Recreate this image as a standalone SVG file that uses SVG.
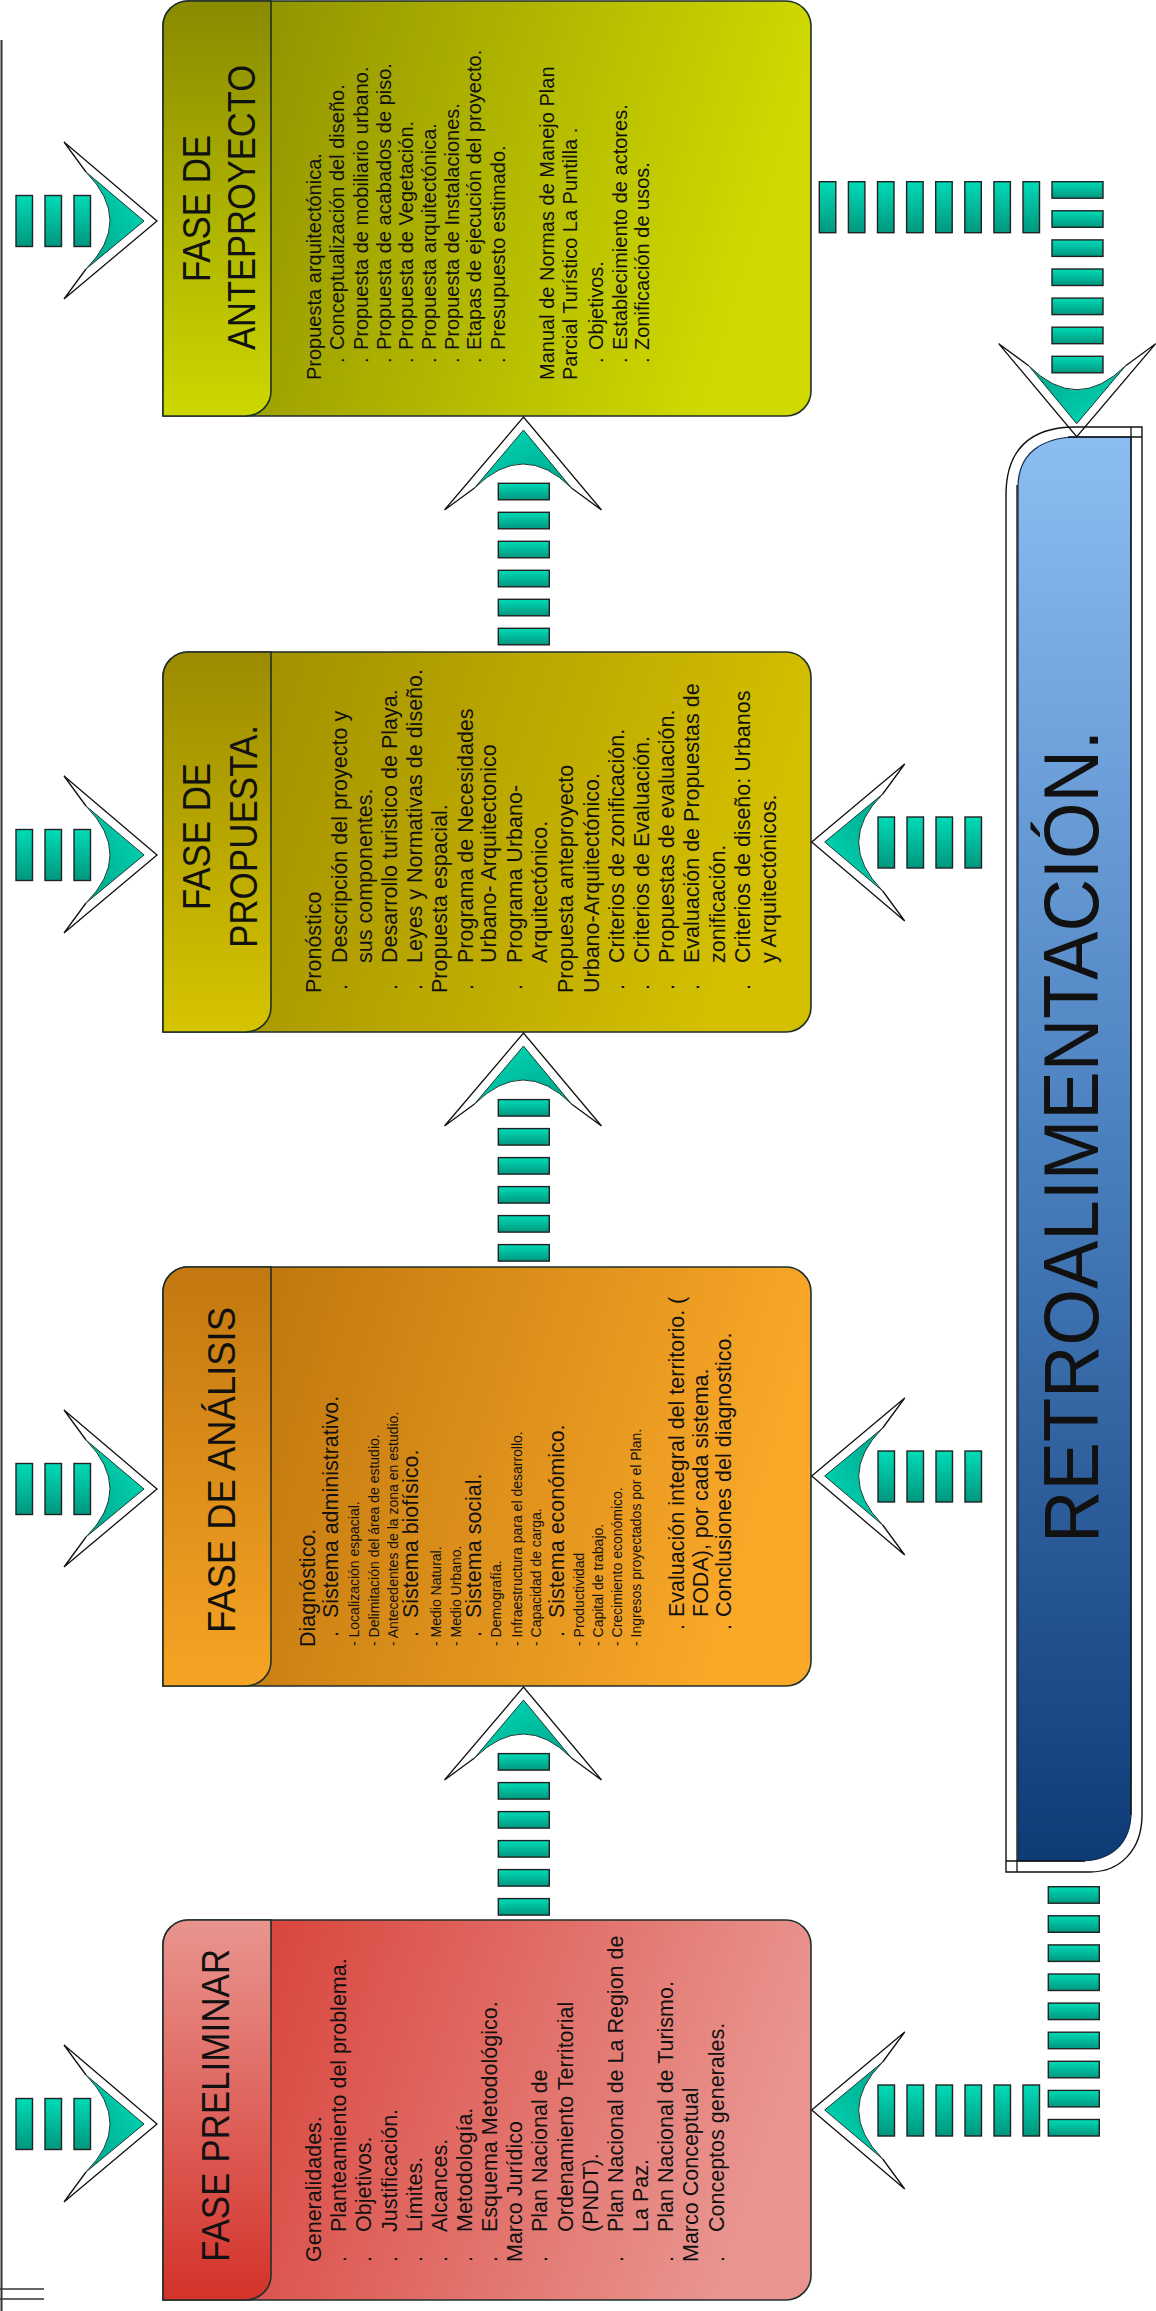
<svg xmlns="http://www.w3.org/2000/svg" width="1156" height="2311" viewBox="0 0 1156 2311">
<style>
text{font-family:"Liberation Sans",Arial,sans-serif;fill:#111}
.hd{font-size:38px}
.b{font-size:21.5px}
.s{font-size:14px}
.a{font-size:20px}
.rt{font-size:78px}
.bx{stroke:#1f2f2a;stroke-width:1.6}
.ln{stroke:#111;stroke-width:1.3;fill:none}
</style>
<defs>
<linearGradient id="gTeal" x1="0" y1="0" x2="0" y2="1"><stop offset="0" stop-color="#00dbb7"/><stop offset="1" stop-color="#00977e"/></linearGradient>
<linearGradient id="gChev" x1="0" y1="1" x2="1" y2="0"><stop offset="0" stop-color="#00a48a"/><stop offset="1" stop-color="#00dcb8"/></linearGradient>
<linearGradient id="pBody" x1="0" y1="0" x2="1" y2="0.2"><stop offset="0" stop-color="#d5372e"/><stop offset="1" stop-color="#e9948f"/></linearGradient>
<linearGradient id="pBand" x1="0" y1="0" x2="0" y2="1"><stop offset="0" stop-color="#e9958f"/><stop offset="1" stop-color="#d3322a"/></linearGradient>
<linearGradient id="aBody" x1="0" y1="0" x2="1" y2="0.2"><stop offset="0" stop-color="#b56e08"/><stop offset="1" stop-color="#f9a828"/></linearGradient>
<linearGradient id="aBand" x1="0" y1="0" x2="0" y2="1"><stop offset="0" stop-color="#c27810"/><stop offset="1" stop-color="#f6a424"/></linearGradient>
<linearGradient id="rBody" x1="0" y1="0" x2="1" y2="0.2"><stop offset="0" stop-color="#9a8800"/><stop offset="1" stop-color="#d4c000"/></linearGradient>
<linearGradient id="rBand" x1="0" y1="0" x2="0" y2="1"><stop offset="0" stop-color="#9c8b00"/><stop offset="1" stop-color="#d6c400"/></linearGradient>
<linearGradient id="tBody" x1="0" y1="0" x2="1" y2="0.2"><stop offset="0" stop-color="#878700"/><stop offset="1" stop-color="#d0da00"/></linearGradient>
<linearGradient id="tBand" x1="0" y1="0" x2="0" y2="1"><stop offset="0" stop-color="#8a8a00"/><stop offset="1" stop-color="#cdd800"/></linearGradient>
<linearGradient id="gBlue" x1="0" y1="0" x2="0" y2="1"><stop offset="0" stop-color="#8cbdf2"/><stop offset="0.5" stop-color="#4a7fbe"/><stop offset="1" stop-color="#0e3b76"/></linearGradient>
<g id="chev"><path d="M-71,-49 L-13,0 L-71,48 Q-23,0 -71,-49 Z" fill="url(#gChev)" stroke="#1a3a34" stroke-width="1"/><path d="M-71,-49 L-93,-79 L0,0 L-93,78 L-71,48" fill="none" stroke="#111" stroke-width="1.3"/></g>
<rect id="rv" width="16.5" height="51" fill="url(#gTeal)" stroke="#222" stroke-width="1.4"/>
<rect id="rh" width="51" height="16.5" fill="url(#gTeal)" stroke="#222" stroke-width="1.4"/>
</defs>
<rect width="1156" height="2311" fill="#fff"/>
<g id="frame">
<line x1="1.5" y1="40" x2="1.5" y2="2311" stroke="#333" stroke-width="2"/>
<line x1="0" y1="2289" x2="44" y2="2289" stroke="#333" stroke-width="1.5"/>
<line x1="0" y1="2299" x2="44" y2="2299" stroke="#333" stroke-width="1.5"/>
</g>

<g id="node-anteproyecto">
<path class="bx" fill="url(#tBody)" d="M163,416 L163,26 A25,25 0 0 1 188,1 L786,1 A25,25 0 0 1 811,26 L811,391 A25,25 0 0 1 786,416 Z"/>
<path class="bx" fill="url(#tBand)" d="M163,416 L163,26 A25,25 0 0 1 188,1 L271,1 L271,391 A25,25 0 0 1 246,416 Z"/>
<g transform="rotate(-90)">
<text class="hd" x="-282" y="210" textLength="147" lengthAdjust="spacingAndGlyphs">FASE DE</text>
<text class="hd" x="-350" y="255" textLength="285" lengthAdjust="spacingAndGlyphs">ANTEPROYECTO</text>
<g class="a">
<text x="-380" y="321">Propuesta arquitectónica.</text>
<text x="-363" y="344">.</text><text x="-350" y="344">Conceptualización del diseño.</text>
<text x="-363" y="368">.</text><text x="-350" y="368">Propuesta de mobiliario urbano.</text>
<text x="-363" y="390.6">.</text><text x="-350" y="390.6">Propuesta de acabados de piso.</text>
<text x="-363" y="412.8">.</text><text x="-350" y="412.8">Propuesta de Vegetación.</text>
<text x="-363" y="436">.</text><text x="-350" y="436">Propuesta arquitectónica.</text>
<text x="-363" y="458.5">.</text><text x="-350" y="458.5">Propuesta de Instalaciones.</text>
<text x="-363" y="481">.</text><text x="-350" y="481">Etapas de ejecución del proyecto.</text>
<text x="-363" y="504.7">.</text><text x="-350" y="504.7">Presupuesto estimado.</text>
<text x="-380" y="554">Manual de Normas de Manejo Plan</text>
<text x="-380" y="577">Parcial Turístico La Puntilla .</text>
<text x="-363" y="603">.</text><text x="-350" y="603">Objetivos.</text>
<text x="-363" y="626.5">.</text><text x="-350" y="626.5">Establecimiento de actores.</text>
<text x="-363" y="649">.</text><text x="-350" y="649">Zonificación de usos.</text>
</g>
</g>
</g>

<g id="node-propuesta">
<path class="bx" fill="url(#rBody)" d="M163,1032 L163,677 A25,25 0 0 1 188,652 L786,652 A25,25 0 0 1 811,677 L811,1007 A25,25 0 0 1 786,1032 Z"/>
<path class="bx" fill="url(#rBand)" d="M163,1032 L163,677 A25,25 0 0 1 188,652 L271,652 L271,1007 A25,25 0 0 1 246,1032 Z"/>
<g transform="rotate(-90)">
<text class="hd" x="-910" y="210" textLength="147" lengthAdjust="spacingAndGlyphs">FASE DE</text>
<text class="hd" x="-948" y="257" textLength="223" lengthAdjust="spacingAndGlyphs">PROPUESTA.</text>
<g class="b">
<text x="-993" y="321">Pronóstico</text>
<text x="-990" y="346.6">.</text><text x="-963" y="346.6">Descripción del proyecto y</text>
<text x="-963" y="372">sus componentes.</text>
<text x="-990" y="397">.</text><text x="-963" y="397">Desarrollo turistico de Playa.</text>
<text x="-990" y="422">.</text><text x="-963" y="422">Leyes y Normativas de diseño.</text>
<text x="-993" y="447">Propuesta espacial.</text>
<text x="-990" y="473">.</text><text x="-963" y="473">Programa de Necesidades</text>
<text x="-963" y="496">Urbano- Arquitectonico</text>
<text x="-990" y="522">.</text><text x="-963" y="522">Programa Urbano-</text>
<text x="-963" y="547">Arquitectónico.</text>
<text x="-993" y="573">Propuesta anteproyecto</text>
<text x="-993" y="599">Urbano-Arquitectónico.</text>
<text x="-990" y="624">.</text><text x="-963" y="624">Criterios de zonificación.</text>
<text x="-990" y="649">.</text><text x="-963" y="649">Criterios de Evaluación.</text>
<text x="-990" y="673.5">.</text><text x="-963" y="673.5">Propuestas de evaluación.</text>
<text x="-990" y="699">.</text><text x="-963" y="699">Evaluación de Propuestas de</text>
<text x="-963" y="725">zonificación.</text>
<text x="-990" y="750">.</text><text x="-963" y="750">Criterios de diseño: Urbanos</text>
<text x="-963" y="776">y Arquitectónicos.</text>
</g>
</g>
</g>

<g id="node-analisis">
<path class="bx" fill="url(#aBody)" d="M163,1686 L163,1292 A25,25 0 0 1 188,1267 L786,1267 A25,25 0 0 1 811,1292 L811,1661 A25,25 0 0 1 786,1686 Z"/>
<path class="bx" fill="url(#aBand)" d="M163,1686 L163,1292 A25,25 0 0 1 188,1267 L271,1267 L271,1661 A25,25 0 0 1 246,1686 Z"/>
<g transform="rotate(-90)">
<text class="hd" x="-1633" y="235" textLength="326" lengthAdjust="spacingAndGlyphs">FASE DE ANÁLISIS</text>
<text class="b" x="-1647" y="314.5">Diagnóstico.</text>
<g class="b">
<text x="-1637" y="338">.</text><text x="-1618" y="338">Sistema administrativo.</text>
<text x="-1637" y="418">.</text><text x="-1618" y="418">Sistema biofísico.</text>
<text x="-1637" y="481">.</text><text x="-1618" y="481">Sistema social.</text>
<text x="-1637" y="564">.</text><text x="-1618" y="564">Sistema económico.</text>
<text x="-1630" y="684">.</text><text x="-1617" y="684">Evaluación integral del territorio. (</text>
<text x="-1617" y="708">FODA), por cada sistema.</text>
<text x="-1630" y="731">.</text><text x="-1617" y="731">Conclusiones del diagnostico.</text>
</g>
<g class="s">
<text x="-1646" y="358.5">- Localización espacial.</text>
<text x="-1646" y="378.6">- Delimitación del área de estudio.</text>
<text x="-1646" y="398">- Antecedentes de la zona en estudio.</text>
<text x="-1646" y="440.6">- Medio Natural.</text>
<text x="-1646" y="461">- Medio Urbano.</text>
<text x="-1646" y="501">- Demografía.</text>
<text x="-1646" y="522">- Infraestructura para el desarrollo.</text>
<text x="-1646" y="541">- Capacidad de carga.</text>
<text x="-1646" y="584">- Productividad</text>
<text x="-1646" y="603">- Capital de trabajo.</text>
<text x="-1646" y="622">- Crecimiento económico.</text>
<text x="-1646" y="641">- Ingresos proyectados por el Plan.</text>
</g>
</g>
</g>

<g id="node-preliminar">
<path class="bx" fill="url(#pBody)" d="M163,2300 L163,1945 A25,25 0 0 1 188,1920 L786,1920 A25,25 0 0 1 811,1945 L811,2275 A25,25 0 0 1 786,2300 Z"/>
<path class="bx" fill="url(#pBand)" d="M163,2300 L163,1945 A25,25 0 0 1 188,1920 L271,1920 L271,2275 A25,25 0 0 1 246,2300 Z"/>
<g transform="rotate(-90)">
<text class="hd" x="-2262" y="229" textLength="313" lengthAdjust="spacingAndGlyphs">FASE PRELIMINAR</text>
<g class="b">
<text x="-2262" y="321">Generalidades.</text>
<text x="-2262" y="346">.</text><text x="-2232" y="346">Planteamiento del problema.</text>
<text x="-2262" y="371">.</text><text x="-2232" y="371">Objetivos.</text>
<text x="-2262" y="397">.</text><text x="-2232" y="397">Justificación.</text>
<text x="-2262" y="422">.</text><text x="-2232" y="422">Límites.</text>
<text x="-2262" y="447">.</text><text x="-2232" y="447">Alcances.</text>
<text x="-2262" y="472">.</text><text x="-2232" y="472">Metodología.</text>
<text x="-2262" y="497">.</text><text x="-2232" y="497">Esquema Metodológico.</text>
<text x="-2262" y="522">Marco Jurídico</text>
<text x="-2262" y="547">.</text><text x="-2232" y="547">Plan Nacional de</text>
<text x="-2232" y="573">Ordenamiento Territorial</text>
<text x="-2232" y="598">(PNDT).</text>
<text x="-2262" y="623">.</text><text x="-2232" y="623">Plan Nacional de La Region de</text>
<text x="-2232" y="648">La Paz.</text>
<text x="-2262" y="673">.</text><text x="-2232" y="673">Plan Nacional de Turismo.</text>
<text x="-2262" y="698">Marco Conceptual</text>
<text x="-2262" y="724">.</text><text x="-2232" y="724">Conceptos generales.</text>
</g>
</g>
</g>

<g id="node-retroalimentacion">
<path d="M1006,1872 L1006,495 C1006,450 1030,427 1075,427 L1142,427 L1142,1815 C1142,1850 1120,1872 1090,1872 Z" fill="#fff" stroke="#111" stroke-width="1.4"/>
<path d="M1018,1861 L1018,487 C1018,455 1040,437 1078,437 L1131,437 L1131,1812 C1131,1843 1112,1861 1080,1861 Z" fill="url(#gBlue)" stroke="#0a2a50" stroke-width="1.2"/>
<line class="ln" x1="1017" y1="485" x2="1017" y2="1872"/>
<line class="ln" x1="1068" y1="437" x2="1142" y2="437"/>
<line class="ln" x1="1131" y1="427" x2="1131" y2="1815"/>
<line class="ln" x1="1006" y1="1861" x2="1085" y2="1861"/>
<text class="rt" transform="translate(1098,1543) rotate(-90)" textLength="813" lengthAdjust="spacingAndGlyphs">RETROALIMENTACIÓN.</text>
</g>

<g id="connectors">
<!-- left arrows into boxes -->
<use href="#rv" x="16" y="195.5"/><use href="#rv" x="45" y="195.5"/><use href="#rv" x="74" y="195.5"/><use href="#chev" transform="translate(157,221)"/>
<use href="#rv" x="16" y="829.5"/><use href="#rv" x="45" y="829.5"/><use href="#rv" x="74" y="829.5"/><use href="#chev" transform="translate(157,855)"/>
<use href="#rv" x="16" y="1463.5"/><use href="#rv" x="45" y="1463.5"/><use href="#rv" x="74" y="1463.5"/><use href="#chev" transform="translate(157,1489)"/>
<use href="#rv" x="16" y="2098.5"/><use href="#rv" x="45" y="2098.5"/><use href="#rv" x="74" y="2098.5"/><use href="#chev" transform="translate(157,2124)"/>
<!-- upward arrows between boxes -->
<use href="#chev" transform="translate(523.5,417) rotate(-90)"/>
<use href="#rh" x="498.3" y="483.3"/><use href="#rh" x="498.3" y="512.3"/><use href="#rh" x="498.3" y="541.3"/><use href="#rh" x="498.3" y="570.3"/><use href="#rh" x="498.3" y="599.3"/><use href="#rh" x="498.3" y="628.3"/>
<use href="#chev" transform="translate(523.5,1033) rotate(-90)"/>
<use href="#rh" x="498.3" y="1099.6"/><use href="#rh" x="498.3" y="1128.6"/><use href="#rh" x="498.3" y="1157.6"/><use href="#rh" x="498.3" y="1186.6"/><use href="#rh" x="498.3" y="1215.6"/><use href="#rh" x="498.3" y="1244.6"/>
<use href="#chev" transform="translate(523.5,1687) rotate(-90)"/>
<use href="#rh" x="498.3" y="1753.6"/><use href="#rh" x="498.3" y="1782.6"/><use href="#rh" x="498.3" y="1811.6"/><use href="#rh" x="498.3" y="1840.6"/><use href="#rh" x="498.3" y="1869.6"/><use href="#rh" x="498.3" y="1898.6"/>
<!-- feedback arrows pointing left -->
<use href="#chev" transform="translate(811.7,842) rotate(180)"/>
<use href="#rv" x="878" y="817"/><use href="#rv" x="907" y="817"/><use href="#rv" x="936" y="817"/><use href="#rv" x="965" y="817"/>
<use href="#chev" transform="translate(811.7,1476) rotate(180)"/>
<use href="#rv" x="878" y="1451"/><use href="#rv" x="907" y="1451"/><use href="#rv" x="936" y="1451"/><use href="#rv" x="965" y="1451"/>
<use href="#chev" transform="translate(811.7,2110) rotate(180)"/>
<use href="#rv" x="878" y="2085"/><use href="#rv" x="907" y="2085"/><use href="#rv" x="936" y="2085"/><use href="#rv" x="965" y="2085"/><use href="#rv" x="994" y="2085"/><use href="#rv" x="1023" y="2085"/>
<!-- from anteproyecto to retroalimentacion -->
<use href="#rv" x="819.3" y="181.7"/><use href="#rv" x="848.4" y="181.7"/><use href="#rv" x="877.5" y="181.7"/><use href="#rv" x="906.6" y="181.7"/><use href="#rv" x="935.7" y="181.7"/><use href="#rv" x="964.8" y="181.7"/><use href="#rv" x="993.9" y="181.7"/><use href="#rv" x="1023" y="181.7"/>
<use href="#rh" x="1052" y="181.7"/><use href="#rh" x="1052" y="210.8"/><use href="#rh" x="1052" y="239.9"/><use href="#rh" x="1052" y="269"/><use href="#rh" x="1052" y="298.1"/><use href="#rh" x="1052" y="327.2"/><use href="#rh" x="1052" y="356.3"/>
<use href="#chev" transform="translate(1076.7,436.7) rotate(90)"/>
<!-- from retroalimentacion down -->
<use href="#rh" x="1048.3" y="1886.7"/><use href="#rh" x="1048.3" y="1915.8"/><use href="#rh" x="1048.3" y="1944.9"/><use href="#rh" x="1048.3" y="1974"/><use href="#rh" x="1048.3" y="2003.1"/><use href="#rh" x="1048.3" y="2032.2"/><use href="#rh" x="1048.3" y="2061.3"/><use href="#rh" x="1048.3" y="2090.4"/><use href="#rh" x="1048.3" y="2119.5"/>
</g>
</svg>
